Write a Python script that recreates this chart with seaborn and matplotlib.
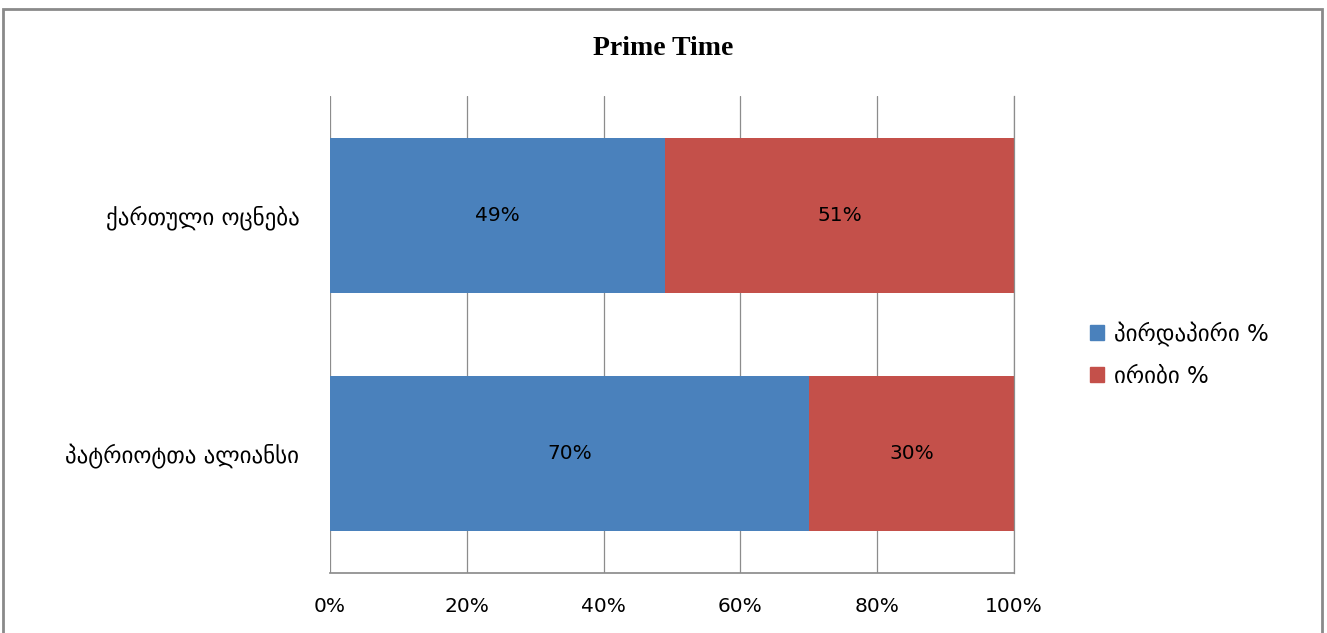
import matplotlib
matplotlib.use("Agg")
import matplotlib.pyplot as plt
import seaborn as sns
import pandas as pd
from matplotlib.patches import Rectangle, Patch

categories = ["ქართული ოცნება", "პატრიოტთა ალიანსი"]
direct = [49, 70]
indirect = [51, 30]
series_names = ["პირდაპირი %", "ირიბი %"]
xticks = [0, 20, 40, 60, 80, 100]
xtick_labels = ["0%", "20%", "40%", "60%", "80%", "100%"]
title = "Prime Time"

blue = "#4A81BC"
red = "#C4504A"
gridc = "#8C8C8C"

sns.set_theme(style="white")
plt.rcParams['font.family'] = ['DejaVu Sans']

df = pd.DataFrame({"cat": categories, "direct": direct, "indirect": indirect})
df["total"] = df["direct"] + df["indirect"]

fig = plt.figure(figsize=(13.27, 6.33), dpi=100)
ax = fig.add_axes([0.2487, 0.0948, 0.5155, 0.7535])

sns.barplot(data=df, x="total", y="cat", color=red, saturation=1, width=0.65, ax=ax,
            order=categories, linewidth=0)
sns.barplot(data=df, x="direct", y="cat", color=blue, saturation=1, width=0.65, ax=ax,
            order=categories, linewidth=0)

ax.set_xlim(0, 100)
ax.set_ylim(1.5, -0.5)
ax.set_xticks(xticks)
ax.set_xticklabels(xtick_labels, fontsize=14.5, color="black")
ax.set_xlabel("")
ax.set_ylabel("")
ax.tick_params(axis="y", labelsize=16.5, pad=22, length=0, labelcolor="black")
ax.tick_params(axis="x", pad=17, length=0, labelcolor="black")
ax.grid(axis="x", color=gridc, linewidth=0.9)
ax.set_axisbelow(True)
for s in ["top", "left"]:
    ax.spines[s].set_visible(False)
ax.spines["right"].set_color(gridc)
ax.spines["right"].set_linewidth(0.9)
ax.spines["bottom"].set_color(gridc)

for i in range(len(categories)):
    ax.text(direct[i] / 2, i, f"{direct[i]}%", ha="center", va="center", fontsize=14.5, color="black")
    ax.text(direct[i] + indirect[i] / 2, i, f"{indirect[i]}%", ha="center", va="center", fontsize=14.5, color="black")

handles = [Patch(facecolor=blue, edgecolor=blue), Patch(facecolor=red, edgecolor=red)]
fig.legend(handles, series_names, loc="center left", bbox_to_anchor=(0.806, 0.44),
           frameon=False, fontsize=16.5, handlelength=0.6, handleheight=0.6,
           handletextpad=0.45, labelspacing=0.8, labelcolor="black")

fig.text(0.5, 0.924, title, ha="center", va="center", fontsize=20, fontweight="bold",
         family="Liberation Serif", color="black")

fig.patches.append(Rectangle((0.002, -0.01), 0.994, 0.995, transform=fig.transFigure,
                             fill=False, edgecolor="#8a8a8a", linewidth=2))

fig.savefig("out.png", dpi=100)
